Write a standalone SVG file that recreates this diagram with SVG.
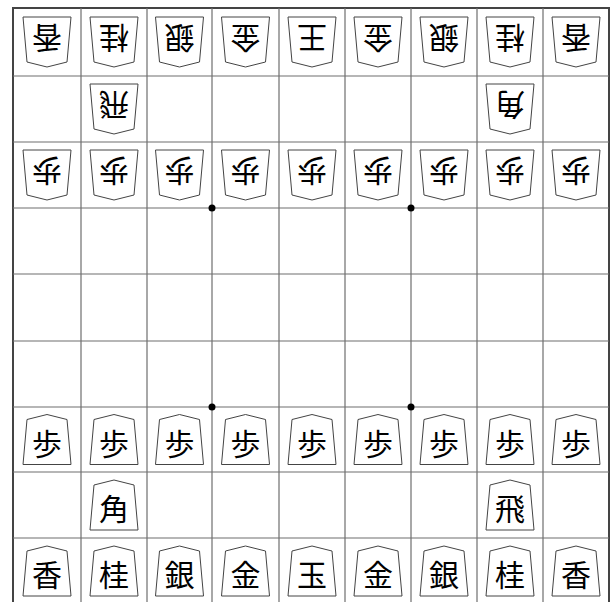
<svg xmlns="http://www.w3.org/2000/svg" xmlns:xlink="http://www.w3.org/1999/xlink" width="612" height="602" viewBox="0 0 612 602">
<style>
.grid line{stroke:#6e6e6e;stroke-width:1.2}
.border{fill:none;stroke:#444;stroke-width:2}
.pc{fill:#fff;stroke:#444;stroke-width:1}
.k{font-family:"Noto Sans CJK JP","Noto Sans CJK SC",sans-serif;font-size:30px;font-weight:400;fill:#000;text-anchor:middle;dominant-baseline:central}
.dot{fill:#000}
</style>
<defs>
<path id="piece" class="pc" d="M0,-25 L20,-20 L24,25 L-24,25 L-20,-20 Z"/>
</defs>
<rect width="612" height="602" fill="#fff"/>
<g id="board">
<rect class="border" x="13" y="8" width="596" height="600"/>
<g class="grid">
<line x1="81" y1="8" x2="81" y2="602"/>
<line x1="147" y1="8" x2="147" y2="602"/>
<line x1="212" y1="8" x2="212" y2="602"/>
<line x1="279" y1="8" x2="279" y2="602"/>
<line x1="345" y1="8" x2="345" y2="602"/>
<line x1="411" y1="8" x2="411" y2="602"/>
<line x1="477" y1="8" x2="477" y2="602"/>
<line x1="543" y1="8" x2="543" y2="602"/>
<line x1="13" y1="76" x2="609" y2="76"/>
<line x1="13" y1="142" x2="609" y2="142"/>
<line x1="13" y1="208" x2="609" y2="208"/>
<line x1="13" y1="274" x2="609" y2="274"/>
<line x1="13" y1="341" x2="609" y2="341"/>
<line x1="13" y1="407" x2="609" y2="407"/>
<line x1="13" y1="472" x2="609" y2="472"/>
<line x1="13" y1="538" x2="609" y2="538"/>
</g>
<circle class="dot" cx="212" cy="208" r="3.5"/>
<circle class="dot" cx="411" cy="208" r="3.5"/>
<circle class="dot" cx="212" cy="407" r="3.5"/>
<circle class="dot" cx="411" cy="407" r="3.5"/>
</g>
<g id="gote">
<g id="g-r0c0" transform="translate(47,42) rotate(180)"><use xlink:href="#piece"/><text class="k" y="2">香</text></g>
<g id="g-r0c1" transform="translate(114,42) rotate(180)"><use xlink:href="#piece"/><text class="k" y="2">桂</text></g>
<g id="g-r0c2" transform="translate(179.5,42) rotate(180)"><use xlink:href="#piece"/><text class="k" y="2">銀</text></g>
<g id="g-r0c3" transform="translate(245.5,42) rotate(180)"><use xlink:href="#piece"/><text class="k" y="2">金</text></g>
<g id="g-r0c4" transform="translate(312,42) rotate(180)"><use xlink:href="#piece"/><text class="k" y="2">王</text></g>
<g id="g-r0c5" transform="translate(378,42) rotate(180)"><use xlink:href="#piece"/><text class="k" y="2">金</text></g>
<g id="g-r0c6" transform="translate(444,42) rotate(180)"><use xlink:href="#piece"/><text class="k" y="2">銀</text></g>
<g id="g-r0c7" transform="translate(510,42) rotate(180)"><use xlink:href="#piece"/><text class="k" y="2">桂</text></g>
<g id="g-r0c8" transform="translate(576,42) rotate(180)"><use xlink:href="#piece"/><text class="k" y="2">香</text></g>
<g id="g-r1c1" transform="translate(114,109) rotate(180)"><use xlink:href="#piece"/><text class="k" y="2">飛</text></g>
<g id="g-r1c7" transform="translate(510,109) rotate(180)"><use xlink:href="#piece"/><text class="k" y="2">角</text></g>
<g id="g-r2c0" transform="translate(47,175) rotate(180)"><use xlink:href="#piece"/><text class="k" y="2">歩</text></g>
<g id="g-r2c1" transform="translate(114,175) rotate(180)"><use xlink:href="#piece"/><text class="k" y="2">歩</text></g>
<g id="g-r2c2" transform="translate(179.5,175) rotate(180)"><use xlink:href="#piece"/><text class="k" y="2">歩</text></g>
<g id="g-r2c3" transform="translate(245.5,175) rotate(180)"><use xlink:href="#piece"/><text class="k" y="2">歩</text></g>
<g id="g-r2c4" transform="translate(312,175) rotate(180)"><use xlink:href="#piece"/><text class="k" y="2">歩</text></g>
<g id="g-r2c5" transform="translate(378,175) rotate(180)"><use xlink:href="#piece"/><text class="k" y="2">歩</text></g>
<g id="g-r2c6" transform="translate(444,175) rotate(180)"><use xlink:href="#piece"/><text class="k" y="2">歩</text></g>
<g id="g-r2c7" transform="translate(510,175) rotate(180)"><use xlink:href="#piece"/><text class="k" y="2">歩</text></g>
<g id="g-r2c8" transform="translate(576,175) rotate(180)"><use xlink:href="#piece"/><text class="k" y="2">歩</text></g>
</g>
<g id="sente">
<g id="s-r6c0" transform="translate(47,439.5)"><use xlink:href="#piece"/><text class="k" y="2">歩</text></g>
<g id="s-r6c1" transform="translate(114,439.5)"><use xlink:href="#piece"/><text class="k" y="2">歩</text></g>
<g id="s-r6c2" transform="translate(179.5,439.5)"><use xlink:href="#piece"/><text class="k" y="2">歩</text></g>
<g id="s-r6c3" transform="translate(245.5,439.5)"><use xlink:href="#piece"/><text class="k" y="2">歩</text></g>
<g id="s-r6c4" transform="translate(312,439.5)"><use xlink:href="#piece"/><text class="k" y="2">歩</text></g>
<g id="s-r6c5" transform="translate(378,439.5)"><use xlink:href="#piece"/><text class="k" y="2">歩</text></g>
<g id="s-r6c6" transform="translate(444,439.5)"><use xlink:href="#piece"/><text class="k" y="2">歩</text></g>
<g id="s-r6c7" transform="translate(510,439.5)"><use xlink:href="#piece"/><text class="k" y="2">歩</text></g>
<g id="s-r6c8" transform="translate(576,439.5)"><use xlink:href="#piece"/><text class="k" y="2">歩</text></g>
<g id="s-r7c1" transform="translate(114,505)"><use xlink:href="#piece"/><text class="k" y="2">角</text></g>
<g id="s-r7c7" transform="translate(510,505)"><use xlink:href="#piece"/><text class="k" y="2">飛</text></g>
<g id="s-r8c0" transform="translate(47,571)"><use xlink:href="#piece"/><text class="k" y="2">香</text></g>
<g id="s-r8c1" transform="translate(114,571)"><use xlink:href="#piece"/><text class="k" y="2">桂</text></g>
<g id="s-r8c2" transform="translate(179.5,571)"><use xlink:href="#piece"/><text class="k" y="2">銀</text></g>
<g id="s-r8c3" transform="translate(245.5,571)"><use xlink:href="#piece"/><text class="k" y="2">金</text></g>
<g id="s-r8c4" transform="translate(312,571)"><use xlink:href="#piece"/><text class="k" y="2">玉</text></g>
<g id="s-r8c5" transform="translate(378,571)"><use xlink:href="#piece"/><text class="k" y="2">金</text></g>
<g id="s-r8c6" transform="translate(444,571)"><use xlink:href="#piece"/><text class="k" y="2">銀</text></g>
<g id="s-r8c7" transform="translate(510,571)"><use xlink:href="#piece"/><text class="k" y="2">桂</text></g>
<g id="s-r8c8" transform="translate(576,571)"><use xlink:href="#piece"/><text class="k" y="2">香</text></g>
</g>
</svg>
